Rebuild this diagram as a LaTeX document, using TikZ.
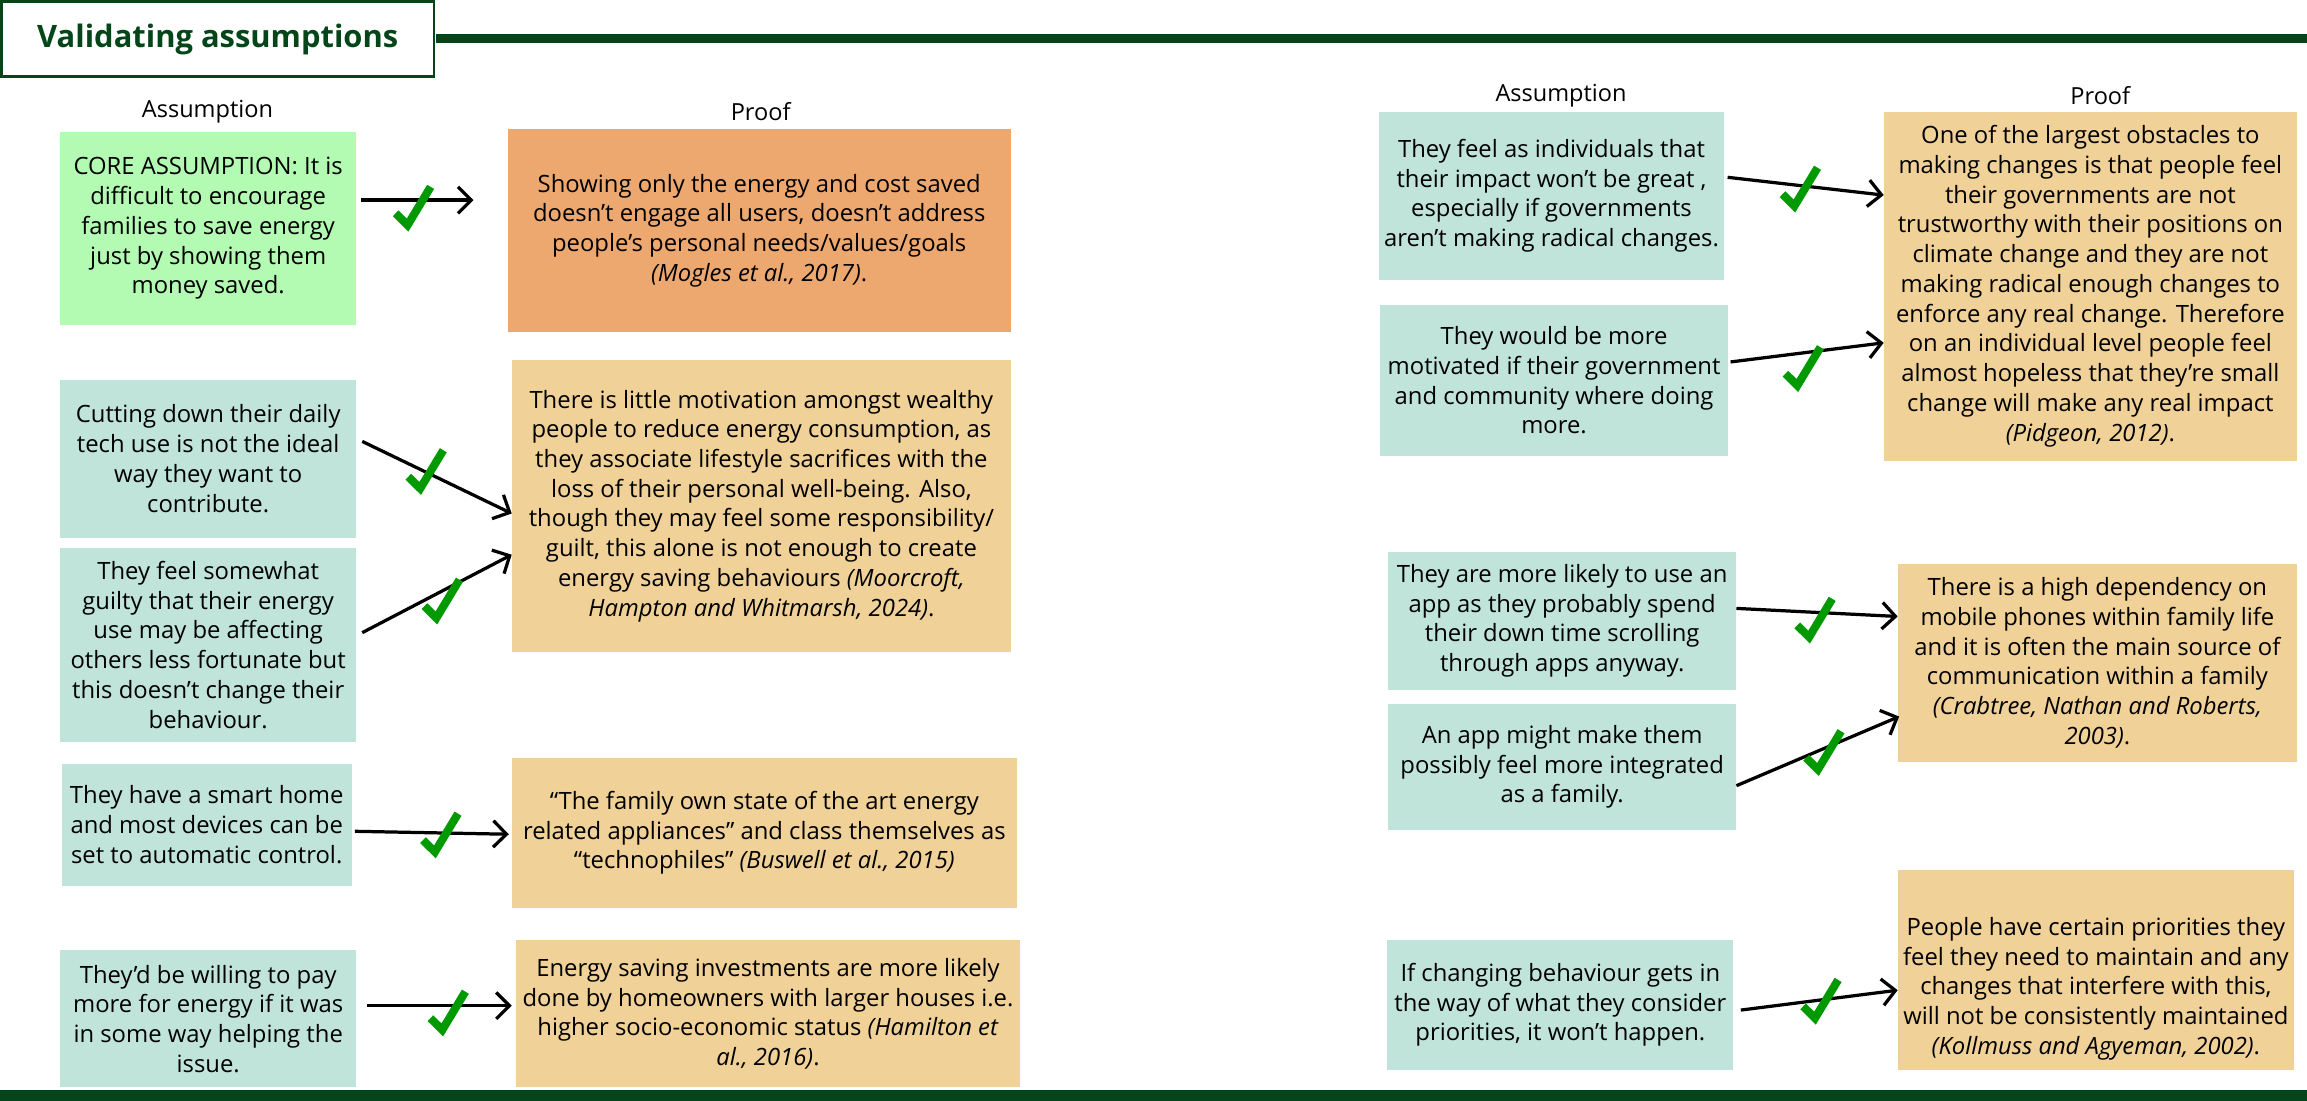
\documentclass[tikz,border=0pt]{standalone}
\usepackage{fontspec}
\setmainfont{Open Sans}
\usepackage{xcolor}
\usepackage{tikz}
\usetikzlibrary{arrows.meta,calc}
\definecolor{forest}{HTML}{05451A}
\definecolor{coregreen}{HTML}{B3FBB3}
\definecolor{assumpteal}{HTML}{C0E4D9}
\definecolor{prooforange}{HTML}{EDA870}
\definecolor{prooftan}{HTML}{F0D197}
\definecolor{tickgreen}{HTML}{009A00}

\tikzset{
  box/.style={rectangle, inner sep=0pt, align=center, font=\fontsize{16.2}{20.2}\selectfont},
  assump/.style={box, fill=assumpteal},
  proof/.style={box, fill=prooftan},
  heading/.style={font=\fontsize{16}{19}\selectfont},
  link/.style={-{Straight Barb[length=9pt,width=18pt]}, line width=2.2pt},
  okmark/.pic={\draw[tickgreen, line width=5.5pt, line join=miter] (-11.5,5) -- (-3.4,13) -- (12.3,-13);}
}

\begin{document}
\begin{tikzpicture}[x=1pt, y=-1pt]
    \useasboundingbox (0,0) rectangle (1568,748);

    % Title and header rule
    \node[draw=forest, line width=1.5pt, minimum width=294pt, minimum height=51pt, text=forest,
          font=\bfseries\fontsize{21}{25}\selectfont] (title) at (148,26.5) {Validating assumptions};
    \draw[forest, line width=6pt] (296,26) -- (1568,26);
    \fill[forest] (0,741) rectangle (1568,748);

    % Column headings
    \node[heading] (headA) at (141,76) {Assumption};
    \node[heading] (headP) at (517,76) {Proof};
    \node[heading] (headA2) at (1061,65) {Assumption};
    \node[heading] (headP2) at (1427.5,65) {Proof};

    % Left half: assumptions
    \node[box, fill=coregreen, minimum width=201pt, minimum height=131.5pt] (core) at (141.5,155.25)
        {CORE ASSUMPTION: It is\\difficult to encourage\\families to save energy\\just by showing them\\money saved.};
    \node[assump, minimum width=201pt, minimum height=107.5pt] (a1) at (141.5,311.75)
        {Cutting down their daily\\tech use is not the ideal\\way they want to\\contribute.};
    \node[assump, minimum width=201pt, minimum height=131.5pt] (a2) at (141.5,438.25)
        {They feel somewhat\\guilty that their energy\\use may be affecting\\others less fortunate but\\this doesn’t change their\\behaviour.};
    \node[assump, minimum width=197pt, minimum height=83pt] (a3) at (140.5,560.5)
        {They have a smart home\\and most devices can be\\set to automatic control.};
    \node[assump, minimum width=201pt, minimum height=93pt] (a4) at (141.5,692.5)
        {They’d be willing to pay\\more for energy if it was\\in some way helping the\\issue.};

    % Left half: proofs
    \node[box, fill=prooforange, minimum width=342pt, minimum height=137.4pt] (pr1) at (516,156.7)
        {Showing only the energy and cost saved\\doesn’t engage all users, doesn’t address\\people’s personal needs/values/goals\\\textit{(Mogles et al., 2017)}.};
    \node[proof, minimum width=339pt, minimum height=198.3pt] (pr2) at (517.5,343.85)
        {There is little motivation amongst wealthy\\people to reduce energy consumption, as\\they associate lifestyle sacrifices with the\\loss of their personal well-being. Also,\\though they may feel some responsibility/\\guilt, this alone is not enough to create\\energy saving behaviours \textit{(Moorcroft,}\\\textit{Hampton and Whitmarsh, 2024)}.};
    \node[proof, minimum width=343pt, minimum height=102pt] (pr3) at (519.5,566)
        {“The family own state of the art energy\\related appliances” and class themselves as\\“technophiles” \textit{(Buswell et al., 2015)}};
    \node[proof, minimum width=342pt, minimum height=100pt] (pr4) at (522,689)
        {Energy saving investments are more likely\\done by homeowners with larger houses i.e.\\higher socio-economic status \textit{(Hamilton et}\\\textit{al., 2016)}.};

    % Right half: assumptions
    \node[assump, minimum width=235pt, minimum height=114pt] (b1) at (1054.5,133)
        {They feel as individuals that\\their impact won’t be great ,\\especially if governments\\aren’t making radical changes.};
    \node[assump, minimum width=236.5pt, minimum height=103pt] (b2) at (1056.25,258.5)
        {They would be more\\motivated if their government\\and community where doing\\more.};
    \node[assump, minimum width=236.5pt, minimum height=94pt] (b3) at (1061.75,422)
        {They are more likely to use an\\app as they probably spend\\their down time scrolling\\through apps anyway.};
    \node[assump, minimum width=236.5pt, minimum height=85.5pt] (b4) at (1061.75,521.25)
        {An app might make them\\possibly feel more integrated\\as a family.};
    \node[assump, minimum width=235pt, minimum height=88pt] (b5) at (1060.5,683)
        {If changing behaviour gets in\\the way of what they consider\\priorities, it won’t happen.};

    % Right half: proofs
    \node[proof, minimum width=280.5pt, minimum height=237pt] (q1) at (1420.75,194.5)
        {One of the largest obstacles to\\making changes is that people feel\\their governments are not\\trustworthy with their positions on\\climate change and they are not\\making radical enough changes to\\enforce any real change. Therefore\\on an individual level people feel\\almost hopeless that they’re small\\change will make any real impact\\\textit{(Pidgeon, 2012)}.};
    \node[proof, minimum width=271pt, minimum height=135pt] (q2) at (1425.5,450.5)
        {There is a high dependency on\\mobile phones within family life\\and it is often the main source of\\communication within a family\\\textit{(Crabtree, Nathan and Roberts,}\\\textit{2003)}.};
    \node[proof, minimum width=269pt, minimum height=136pt] (q3) at (1424.5,659) {};
    \node[box] (q3text) at ($(q3.center)+(0,13)$)
        {People have certain priorities they\\feel they need to maintain and any\\changes that interfere with this,\\will not be consistently maintained\\\textit{(Kollmuss and Agyeman, 2002)}.};

    % Links
    \draw[link] ($(core.east)+(3,-19.25)$) -- ($(pr1.west)+(-23,-20.7)$);
    \draw[link] ($(a1.east)+(4,-11.75)$) -- ($(pr2.west)+(0,5.15)$);
    \draw[link] ($(a2.east)+(4,-8.25)$) -- ($(pr2.west)+(0,33.15)$);
    \draw[link] ($(a3.east)+(2,4.5)$) -- ($(pr3.west)+(-2,1)$);
    \draw[link] ($(a4.east)+(7.5,-9)$) -- ($(pr4.west)+(-3,-5.5)$);
    \draw[link] ($(b1.east)+(2,-12.5)$) -- ($(q1.west)+(0,-61.9)$);
    \draw[link] ($(b2.east)+(1.5,-12.5)$) -- ($(q1.west)+(0,38.5)$);
    \draw[link] ($(b3.east)+(0,-8.5)$) -- ($(q2.west)+(0,-31.5)$);
    \draw[link] ($(b4.east)+(0,12.75)$) -- ($(q2.west)+(1,36.5)$);
    \draw[link] ($(b5.east)+(5,3.5)$) -- ($(q3.west)+(0,14)$);

    % Ticks
    \foreach \tx/\ty in {280.4/140, 289/319, 300/407, 299/566, 304/687,
                         1223/127, 1225/249, 1233/420, 1239/510, 1237/679}
        \pic at (\tx,\ty) {okmark};

\end{tikzpicture}
\end{document}
